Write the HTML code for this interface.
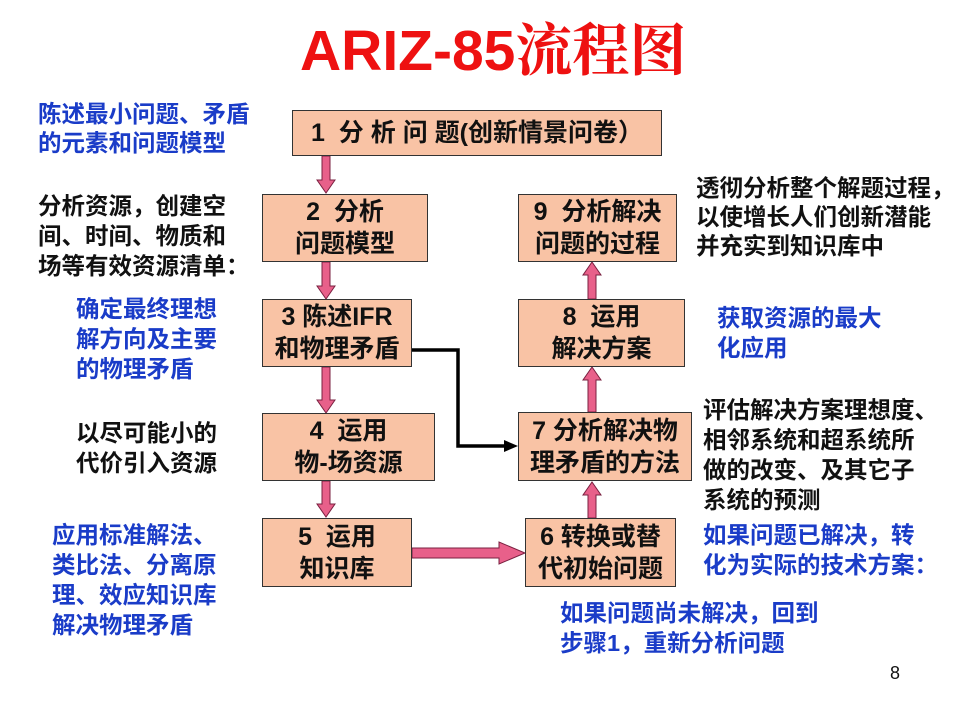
<!DOCTYPE html>
<html><head><meta charset="utf-8"><style>
body{margin:0;width:960px;height:720px;background:#fff;position:relative;overflow:hidden;font-family:"Liberation Sans","Noto Sans CJK SC",sans-serif}
.t{position:absolute;white-space:nowrap;font-size:23.5px;line-height:30px;font-weight:bold}
.b{color:#1a3cc8}
.k{color:#111}
.box{position:absolute;background:#f9c3a5;border:1.5px solid #333;box-sizing:border-box;text-align:center;font-size:25px;line-height:32px;color:#111;display:flex;align-items:center;justify-content:center;flex-direction:column;font-weight:bold;white-space:nowrap}
</style></head><body>
<div class="t" style="left:300px;top:11px;font-size:57px;line-height:70px;color:#ee1111;font-weight:bold">ARIZ-85<span style="font-weight:bold;font-family:'Noto Serif CJK SC','Noto Sans CJK SC',serif">流程图</span></div>

<svg width="960" height="720" style="position:absolute;left:0;top:0">
<g fill="#e8608a" stroke="#7a2040" stroke-width="1">
<path d="M322 156 h8 v24 h5 l-9 13 l-9 -13 h5z"/>
<path d="M322 262 h8 v24 h5 l-9 13 l-9 -13 h5z"/>
<path d="M322 367 h8 v33 h5 l-9 13 l-9 -13 h5z"/>
<path d="M322 481 h8 v23 h5 l-9 13 l-9 -13 h5z"/>
<path d="M412 548 h87 v-6 l26 11 l-26 11 v-6 h-87z"/>
<path d="M596 518 v-23 h5 l-9 -13 l-9 13 h5 v23z"/>
<path d="M596 412 v-32 h5 l-9 -13 l-9 13 h5 v32z"/>
<path d="M596 299 v-24 h5 l-9 -13 l-9 13 h5 v24z"/>
</g>
<path d="M405 350 H458 V446 H505" fill="none" stroke="#000" stroke-width="3.5"/>
<path d="M518 446 l-14 -6 v12z" fill="#000"/>
</svg>

<div class="box" style="left:292px;top:110px;width:370px;height:46px"><div>1&nbsp; 分 析 问 题(创新情景问卷）</div></div>
<div class="box" style="left:262px;top:194px;width:166px;height:68px"><div>2&nbsp; 分析</div><div>问题模型</div></div>
<div class="box" style="left:262px;top:299px;width:150px;height:68px"><div>3 陈述IFR</div><div>和物理矛盾</div></div>
<div class="box" style="left:262px;top:413px;width:173px;height:68px"><div>4&nbsp; 运用</div><div>物-场资源</div></div>
<div class="box" style="left:262px;top:518px;width:150px;height:69px"><div>5&nbsp; 运用</div><div>知识库</div></div>
<div class="box" style="left:525px;top:518px;width:151px;height:69px"><div>6 转换或替</div><div>代初始问题</div></div>
<div class="box" style="left:518px;top:412px;width:174px;height:69px"><div>7 分析解决物</div><div>理矛盾的方法</div></div>
<div class="box" style="left:518px;top:299px;width:167px;height:68px"><div>8&nbsp; 运用</div><div>解决方案</div></div>
<div class="box" style="left:518px;top:194px;width:159px;height:68px"><div>9&nbsp; 分析解决</div><div>问题的过程</div></div>

<div class="t b" style="left:38px;top:100px;line-height:29px">陈述最小问题、矛盾<br>的元素和问题模型</div>
<div class="t k" style="left:38px;top:191px">分析资源，创建空<br>间、时间、物质和<br>场等有效资源清单：</div>
<div class="t b" style="left:76px;top:294px">确定最终理想<br>解方向及主要<br>的物理矛盾</div>
<div class="t k" style="left:76px;top:418px">以尽可能小的<br>代价引入资源</div>
<div class="t b" style="left:52px;top:520px">应用标准解法、<br>类比法、分离原<br>理、效应知识库<br>解决物理矛盾</div>
<div class="t k" style="left:696px;top:174px;line-height:29px">透彻分析整个解题过程，<br>以使增长人们创新潜能<br>并充实到知识库中</div>
<div class="t b" style="left:717px;top:303px">获取资源的最大<br>化应用</div>
<div class="t k" style="left:703px;top:395px">评估解决方案理想度、<br>相邻系统和超系统所<br>做的改变、及其它子<br>系统的预测</div>
<div class="t b" style="left:703px;top:520px">如果问题已解决，转<br>化为实际的技术方案：</div>
<div class="t b" style="left:560px;top:598px">如果问题尚未解决，回到<br>步骤1，重新分析问题</div>
<div class="t k" style="left:890px;top:658px;font-size:18px;font-weight:normal">8</div>
</body></html>
